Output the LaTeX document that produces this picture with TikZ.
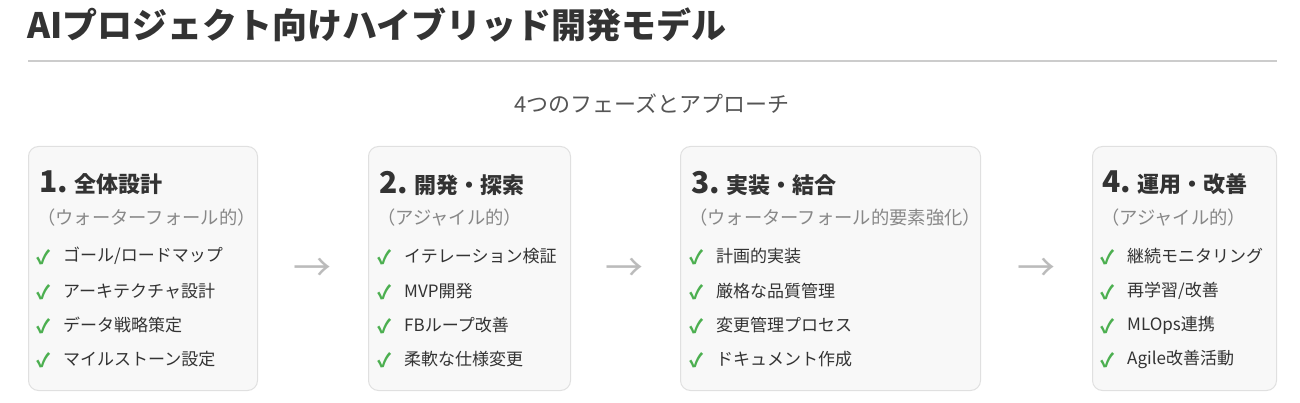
\documentclass[tikz,border=0pt]{standalone}
\usepackage{fontspec}
\newfontfamily\jp{Noto Sans CJK JP}
\definecolor{titlec}{HTML}{333333}
\definecolor{rulec}{HTML}{CCCCCC}
\definecolor{subc}{HTML}{555555}
\definecolor{cardfill}{HTML}{F8F8F8}
\definecolor{cardline}{HTML}{E0E0E0}
\definecolor{graytxt}{HTML}{888888}
\definecolor{checkc}{HTML}{4CAF50}
\definecolor{arrowc}{HTML}{BBBBBB}
\begin{document}
\begin{tikzpicture}[x=1pt,y=-1pt,
  card/.style={draw=cardline, fill=cardfill, rounded corners=10pt, line width=1pt, anchor=north west, inner sep=0pt},
  txt/.style={inner sep=0pt, anchor=west, font=\jp},
  heading/.style={txt, text=titlec, font=\jp\bfseries\fontsize{22}{26}\selectfont},
  phase/.style={txt, text=graytxt, font=\jp\fontsize{18.3}{22}\selectfont},
  item/.style={txt, text=titlec, font=\jp\fontsize{17}{20}\selectfont},
  chk/.style={txt, text=checkc, font=\jp\bfseries\fontsize{19}{20}\selectfont},
  arrowglyph/.style={inner sep=0pt, text=arrowc, font=\jp\fontsize{38}{40}\selectfont}
]
\useasboundingbox[fill=white] (0,0) rectangle (1300,403);

% title
\node[txt, text=titlec, font=\jp\bfseries\fontsize{35}{40}\selectfont] (title) at (27,25) {AIプロジェクト向けハイブリッド開発モデル};
\coordinate (r1) at (28,61);
\coordinate (r2) at (1277,61);
\draw[rulec, line width=1.5pt] (r1) -- (r2);
\node[inner sep=0pt, text=subc, font=\jp\fontsize{22}{24}\selectfont] (sub) at (652,104) {4つのフェーズとアプローチ};

% cards
\node[card, minimum width=229pt, minimum height=244pt] (card1) at (28,146) {};
\node[card, minimum width=202pt, minimum height=244pt] (card2) at (368,146) {};
\node[card, minimum width=300pt, minimum height=244pt] (card3) at (680,146) {};
\node[card, minimum width=184pt, minimum height=244pt] (card4) at (1092,146) {};

% arrows
\node[arrowglyph] (arr1) at (312,270) {→};
\node[arrowglyph] (arr2) at (624,270) {→};
\node[arrowglyph] (arr3) at (1036,270) {→};

% card 1
\node[heading] (h1) at (39,183) {{\fontsize{30}{30}\selectfont 1.}\hspace{6pt}全体設計};
\node[phase] (p1) at (37,218) {（ウォーターフォール的）};
\node[chk] (k1a) at (36,257) {✓}; \node[item] (i1a) at (63,256) {ゴール/ロードマップ};
\node[chk] (k1b) at (36,292) {✓}; \node[item] (i1b) at (63,291) {アーキテクチャ設計};
\node[chk] (k1c) at (36,326) {✓}; \node[item] (i1c) at (63,325) {データ戦略策定};
\node[chk] (k1d) at (36,360) {✓}; \node[item] (i1d) at (63,359) {マイルストーン設定};

% card 2
\node[heading] (h2) at (379,183) {{\fontsize{30}{30}\selectfont 2.}\hspace{6pt}開発・探索};
\node[phase] (p2) at (377,218) {（アジャイル的）};
\node[chk] (k2a) at (377,257) {✓}; \node[item] (i2a) at (404,256) {イテレーション検証};
\node[chk] (k2b) at (377,292) {✓}; \node[item] (i2b) at (404,291) {MVP開発};
\node[chk] (k2c) at (377,326) {✓}; \node[item] (i2c) at (404,325) {FBループ改善};
\node[chk] (k2d) at (377,360) {✓}; \node[item] (i2d) at (404,359) {柔軟な仕様変更};

% card 3
\node[heading] (h3) at (691,183) {{\fontsize{30}{30}\selectfont 3.}\hspace{6pt}実装・結合};
\node[phase] (p3) at (689,218) {（ウォーターフォール的要素強化）};
\node[chk] (k3a) at (689,257) {✓}; \node[item] (i3a) at (716,256) {計画的実装};
\node[chk] (k3b) at (689,292) {✓}; \node[item] (i3b) at (716,291) {厳格な品質管理};
\node[chk] (k3c) at (689,326) {✓}; \node[item] (i3c) at (716,325) {変更管理プロセス};
\node[chk] (k3d) at (689,360) {✓}; \node[item] (i3d) at (716,359) {ドキュメント作成};

% card 4
\node[heading] (h4) at (1102,183) {{\fontsize{30}{30}\selectfont 4.}\hspace{6pt}運用・改善};
\node[phase] (p4) at (1101,218) {（アジャイル的）};
\node[chk] (k4a) at (1100,257) {✓}; \node[item] (i4a) at (1127,256) {継続モニタリング};
\node[chk] (k4b) at (1100,292) {✓}; \node[item] (i4b) at (1127,291) {再学習/改善};
\node[chk] (k4c) at (1100,326) {✓}; \node[item] (i4c) at (1127,325) {MLOps連携};
\node[chk] (k4d) at (1100,360) {✓}; \node[item] (i4d) at (1127,359) {Agile改善活動};
\end{tikzpicture}
\end{document}
